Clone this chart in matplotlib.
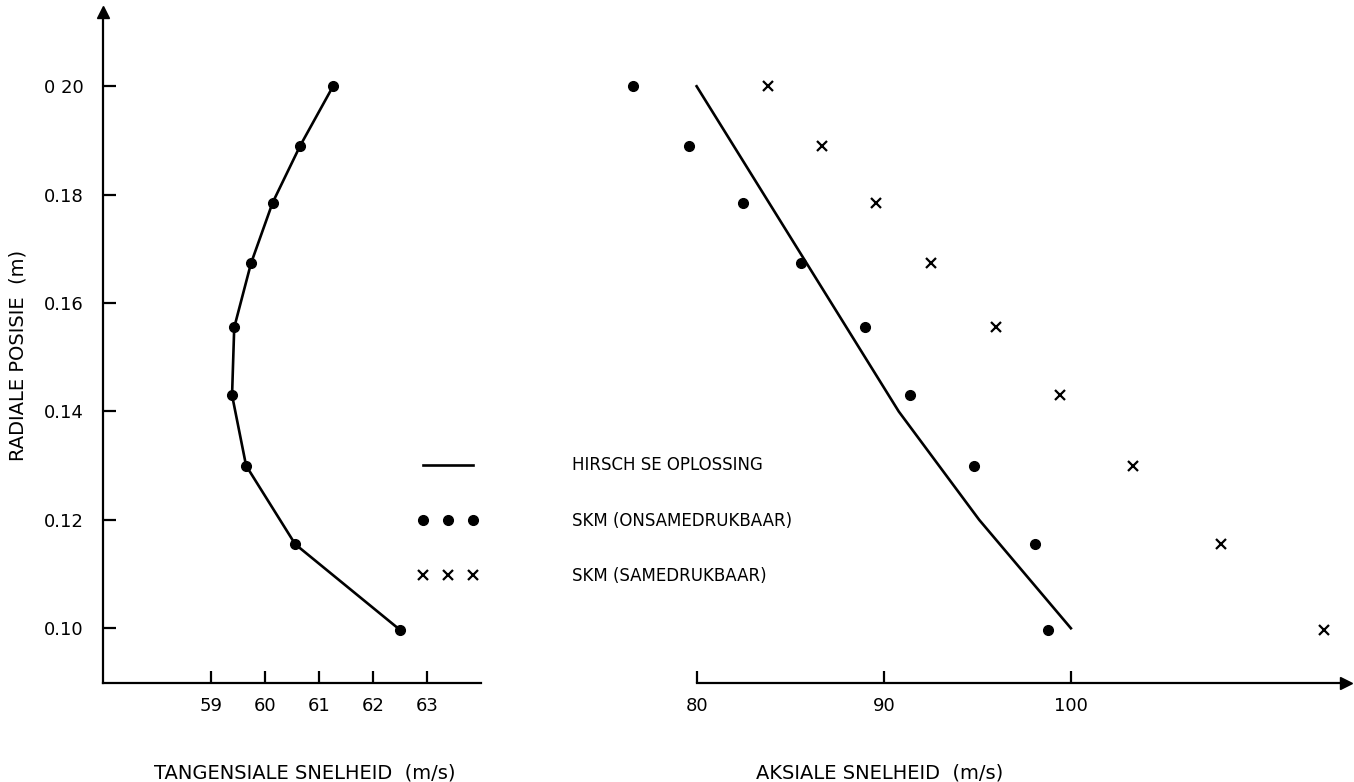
import numpy as np
import matplotlib.pyplot as plt
from matplotlib.lines import Line2D

plt.rcParams['font.family'] = ['DejaVu Sans']

# radial positions (m)
r = [0.200, 0.189, 0.1785, 0.1673, 0.1555, 0.143, 0.130, 0.1155, 0.0997]

# tangential speed (m/s), Hirsch solution with SKM points
v_tan = [61.26, 60.65, 60.14, 59.74, 59.43, 59.39, 59.65, 60.56, 62.50]

# axial speed (m/s)
r_hirsch = [0.200, 0.180, 0.160, 0.140, 0.120, 0.100]
v_ax_hirsch = [80.0, 83.6, 87.2, 90.8, 95.1, 100.0]
v_ax_onsamedrukbaar = [76.6, 79.6, 82.5, 85.6, 89.0, 91.4, 94.8, 98.1, 98.8]
v_ax_samedrukbaar = [83.8, 86.7, 89.6, 92.5, 96.0, 99.4, 103.3, 108.0, 113.5]

W, H = 1354, 782
fig = plt.figure(figsize=(W / 100, H / 100), dpi=100)
bottom = 1 - 683 / H
height = (683 - 12) / H
axL = fig.add_axes([103 / W, bottom, (481 - 103) / W, height])
axR = fig.add_axes([560 / W, bottom, (1346 - 560) / W, height], sharey=axL)

ylo, yhi = 0.0899, 0.2137
lw = 1.9

# left: tangential speed
axL.plot(v_tan, r, color='black', lw=lw, marker='o', ms=7)
axL.set_xlim(57, 64)
axL.set_ylim(ylo, yhi)
axL.set_xticks([59, 60, 61, 62, 63])
axL.set_yticks([0.10, 0.12, 0.14, 0.16, 0.18, 0.20])
axL.set_yticklabels(['0.10', '0.12', '0.14', '0.16', '0.18', '0 20'])
for s in ['top', 'right']:
    axL.spines[s].set_visible(False)

# right: axial speed
axR.plot(v_ax_hirsch, r_hirsch, color='black', lw=lw)
axR.plot(v_ax_onsamedrukbaar, r, 'o', color='black', ms=7)
axR.plot(v_ax_samedrukbaar, r, 'x', color='black', ms=7, mew=1.6)
axR.set_xlim(72.7, 114.7)
axR.set_xticks([80, 90, 100])
for s in ['top', 'right', 'left']:
    axR.spines[s].set_visible(False)
axR.spines['bottom'].set_bounds(80, 114.7)
axR.tick_params(left=False, labelleft=False)

for ax in (axL, axR):
    for s in ax.spines.values():
        s.set_linewidth(1.6)
    ax.tick_params(direction='in', length=9, width=1.6, labelsize=13)
    ax.tick_params(axis='x', pad=10)
    ax.tick_params(axis='y', pad=14)
    ax.patch.set_visible(False)

# arrow heads on the axes
axL.plot(0, 1, '^', color='black', ms=8, transform=axL.transAxes, clip_on=False)
axR.plot(1, 0, '>', color='black', ms=8, transform=axR.transAxes, clip_on=False)

fig.text(305 / W, 1 - 773 / H, 'TANGENSIALE SNELHEID  (m/s)', ha='center', va='center', fontsize=14)
fig.text(880 / W, 1 - 773 / H, 'AKSIALE SNELHEID  (m/s)', ha='center', va='center', fontsize=14)
fig.text(18 / W, 1 - 355 / H, 'RADIALE POSISIE  (m)', ha='center', va='center', rotation=90, fontsize=14)

handles = [
    Line2D([], [], color='black', lw=lw),
    Line2D([], [], color='black', ls='none', marker='o', ms=7),
    Line2D([], [], color='black', ls='none', marker='x', ms=7, mew=1.6),
]
labels = ['HIRSCH SE OPLOSSING', 'SKM (ONSAMEDRUKBAAR)', 'SKM (SAMEDRUKBAAR)']
fig.legend(handles, labels, loc='upper left', bbox_to_anchor=(410 / W, 1 - 448 / H),
           frameon=False, numpoints=3, fontsize=12, handlelength=3.6,
           handletextpad=5.6, labelspacing=2.25, borderpad=0)

fig.savefig('out.png', dpi=100)
